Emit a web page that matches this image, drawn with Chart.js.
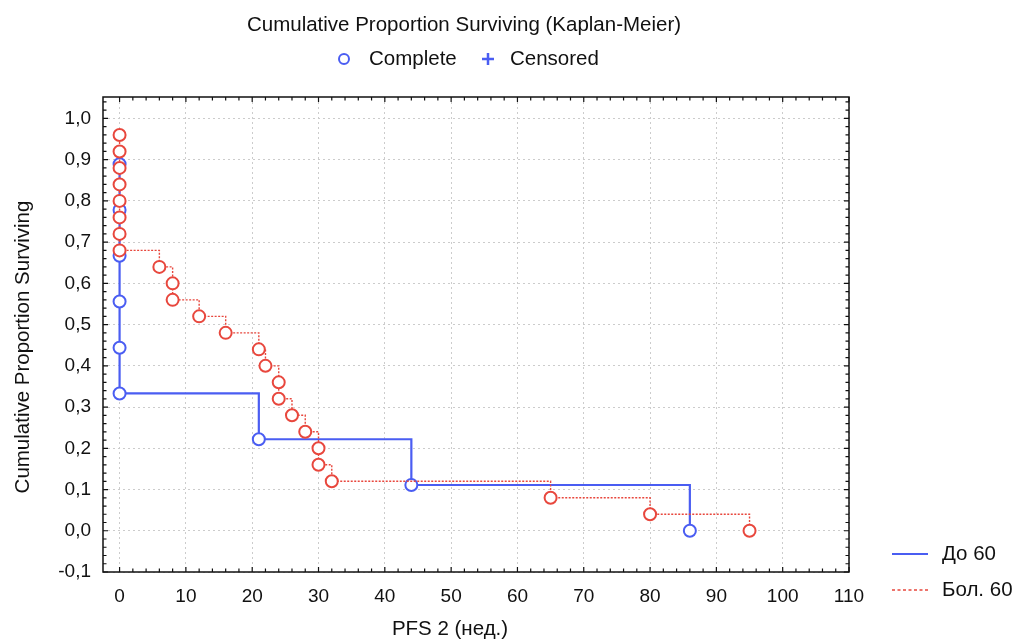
<!DOCTYPE html>
<html>
<head>
<meta charset="utf-8">
<script src="https://cdn.jsdelivr.net/npm/chart.js@4.4.0/dist/chart.umd.min.js"></script>
<style>
  html, body { margin: 0; padding: 0; background: #fff; }
  #wrap { width: 1019px; height: 641px; }
</style>
</head>
<body>
<div id="wrap"><canvas id="km_chart" width="1019" height="641"></canvas></div>
<script>
// Kaplan-Meier curves
const blue_x = [0, 0, 0, 0, 0, 0, 21, 44, 86];
const blue_y = [0.889, 0.778, 0.667, 0.556, 0.444, 0.333, 0.222, 0.111, 0.0];
const red_x = [0, 0, 0, 0, 0, 0, 0, 0, 6, 8, 8, 12, 16, 21, 22, 24, 24, 26, 28, 30, 30, 32, 65, 80, 95];
const red_y = [0.96, 0.92, 0.88, 0.84, 0.80, 0.76, 0.72, 0.68, 0.64, 0.60, 0.56, 0.52, 0.48, 0.44, 0.40, 0.36, 0.32, 0.28, 0.24, 0.20, 0.16, 0.12, 0.08, 0.04, 0.0];
const x_ticks = [0, 10, 20, 30, 40, 50, 60, 70, 80, 90, 100, 110];
const y_ticks = [-0.1, 0.0, 0.1, 0.2, 0.3, 0.4, 0.5, 0.6, 0.7, 0.8, 0.9, 1.0];
const series_names = ["До 60", "Бол. 60"];

const BLUE = "#4a5df2";
const RED = "#e8473d";
const FONT = "'Liberation Sans', Arial, Helvetica, sans-serif";

function to_points(xs, ys) {
    return xs.map((x, i) => ({x: x, y: ys[i]}));
}

const frame_plugin = {
    id: "frame_plugin",
    afterDraw(chart) {
        const ctx = chart.ctx;
        const a = chart.chartArea;
        const xs = chart.scales.x;
        const ys = chart.scales.y;
        ctx.save();
        // box
        ctx.strokeStyle = "#111";
        ctx.lineWidth = 1.5;
        ctx.strokeRect(a.left, a.top, a.right - a.left, a.bottom - a.top);
        // inward ticks, major + minor
        ctx.lineWidth = 1.2;
        ctx.beginPath();
        for (let v = 0; v <= 110; v += 2) {
            const px = xs.getPixelForValue(v);
            const len = v % 10 === 0 ? 5 : 3.5;
            ctx.moveTo(px, a.bottom); ctx.lineTo(px, a.bottom - len);
            ctx.moveTo(px, a.top); ctx.lineTo(px, a.top + len);
        }
        for (let k = -5; k <= 52; k++) {
            const v = k * 0.02;
            const py = ys.getPixelForValue(v);
            if (py < a.top || py > a.bottom) continue;
            const len = k % 5 === 0 ? 5 : 3.5;
            ctx.moveTo(a.left, py); ctx.lineTo(a.left + len, py);
            ctx.moveTo(a.right, py); ctx.lineTo(a.right - len, py);
        }
        ctx.stroke();

        // title and top legend
        ctx.fillStyle = "#111";
        ctx.textBaseline = "middle";
        ctx.textAlign = "center";
        ctx.font = "20.5px " + FONT;
        ctx.fillText("Cumulative Proportion Surviving (Kaplan-Meier)", 464, 25);
        ctx.textAlign = "left";
        ctx.fillText("Complete", 369, 59);
        ctx.fillText("Censored", 510, 59);
        ctx.strokeStyle = BLUE;
        ctx.lineWidth = 2;
        ctx.beginPath();
        ctx.arc(344, 59, 5, 0, Math.PI * 2);
        ctx.stroke();
        ctx.lineWidth = 2.5;
        ctx.beginPath();
        ctx.moveTo(482, 59); ctx.lineTo(494, 59);
        ctx.moveTo(488, 53); ctx.lineTo(488, 65);
        ctx.stroke();

        // series legend, bottom right
        ctx.font = "20.5px " + FONT;
        ctx.fillStyle = "#111";
        ctx.fillText(series_names[0], 942, 554);
        ctx.fillText(series_names[1], 942, 590);
        ctx.strokeStyle = BLUE;
        ctx.lineWidth = 2;
        ctx.beginPath();
        ctx.moveTo(892, 554); ctx.lineTo(928, 554);
        ctx.stroke();
        ctx.strokeStyle = RED;
        ctx.lineWidth = 1.3;
        ctx.setLineDash([3, 2.5]);
        ctx.beginPath();
        ctx.moveTo(892, 590); ctx.lineTo(928, 590);
        ctx.stroke();
        ctx.setLineDash([]);

        // axis titles
        ctx.fillStyle = "#111";
        ctx.font = "20.5px " + FONT;
        ctx.textAlign = "center";
        ctx.fillText("PFS 2 (нед.)", 450, 629);
        ctx.translate(23, 347);
        ctx.rotate(-Math.PI / 2);
        ctx.fillText("Cumulative Proportion Surviving", 0, 0);
        ctx.restore();
    }
};

const chart = new Chart(document.getElementById("km_chart").getContext("2d"), {
    type: "line",
    data: {
        datasets: [{
            label: series_names[0],
            data: to_points(blue_x, blue_y),
            stepped: "before",
            borderColor: BLUE,
            borderWidth: 2.2,
            pointRadius: 6,
            pointBorderWidth: 2,
            pointBorderColor: BLUE,
            pointBackgroundColor: "#fff",
            fill: false,
            order: 2
        }, {
            label: series_names[1],
            data: to_points(red_x, red_y),
            stepped: "before",
            borderColor: RED,
            borderWidth: 1.4,
            borderDash: [2, 1.5],
            pointRadius: 6,
            pointBorderWidth: 2,
            pointBorderColor: RED,
            pointBackgroundColor: "#fff",
            fill: false,
            order: 1
        }]
    },
    options: {
        responsive: false,
        animation: false,
        layout: {padding: {left: 10, top: 97, right: 170, bottom: 0}},
        plugins: {
            legend: {display: false},
            title: {display: false},
            tooltip: {enabled: false}
        },
        scales: {
            x: {
                type: "linear",
                min: -2.5,
                max: 110,
                afterBuildTicks: (s) => { s.ticks = x_ticks.map(v => ({value: v})); },
                afterFit: (s) => { s.height = 69; },
                grid: {color: "#cccccc", lineWidth: 1, drawTicks: false},
                border: {display: false, dash: [2, 3]},
                ticks: {
                    color: "#111",
                    padding: 13,
                    maxRotation: 0,
                    font: {family: FONT, size: 19},
                    callback: (v) => String(v)
                }
            },
            y: {
                type: "linear",
                min: -0.1,
                max: 1.052,
                afterBuildTicks: (s) => { s.ticks = y_ticks.map(v => ({value: v})); },
                afterFit: (s) => { s.width = 93; },
                grid: {color: "#cccccc", lineWidth: 1, drawTicks: false},
                border: {display: false, dash: [2, 3]},
                ticks: {
                    color: "#111",
                    padding: 12,
                    font: {family: FONT, size: 19},
                    callback: (v) => v.toFixed(1).replace(".", ",")
                }
            }
        }
    },
    plugins: [frame_plugin]
});
</script>
</body>
</html>
